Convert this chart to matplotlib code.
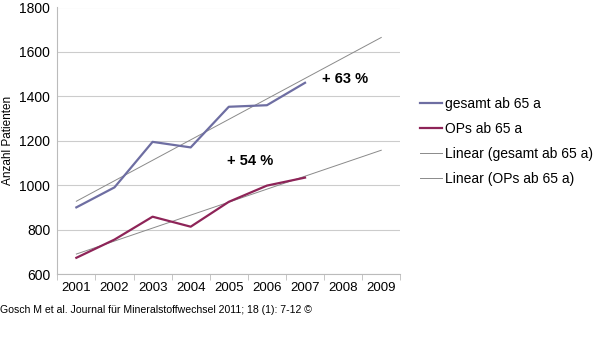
import matplotlib
matplotlib.use("Agg")
import matplotlib.pyplot as plt
import numpy as np

years = ["2001", "2002", "2003", "2004", "2005", "2006", "2007", "2008", "2009"]
gesamt = [900, 990, 1195, 1170, 1353, 1360, 1461]
ops = [673, 755, 858, 813, 925, 998, 1034]
yticks = [600, 800, 1000, 1200, 1400, 1600, 1800]

plt.rcParams['font.family'] = ['Liberation Sans', 'DejaVu Sans']

fig = plt.figure(figsize=(6, 3.59), dpi=100)
ax = fig.add_axes([57.3/600, 1 - 274/359, 343/600, (274 - 7.5)/359])

xd = np.arange(1, len(gesamt) + 1)
xall = np.arange(1, len(years) + 1)
c1 = '#6E6EA2'
c2 = '#8E2458'
tc = '#8a8a8a'

l1, = ax.plot(xd, gesamt, color=c1, lw=1.6, label='gesamt ab 65 a', zorder=3)
l2, = ax.plot(xd, ops, color=c2, lw=1.6, label='OPs ab 65 a', zorder=3)
p1 = np.polyfit(xd, gesamt, 1)
p2 = np.polyfit(xd, ops, 1)
l3, = ax.plot(xall, np.polyval(p1, xall), color=tc, lw=0.7, label='Linear (gesamt ab 65 a)', zorder=2)
l4, = ax.plot(xall, np.polyval(p2, xall), color=tc, lw=0.7, label='Linear (OPs ab 65 a)', zorder=2)

ax.set_xlim(0.5, len(years) + 0.5)
ax.set_ylim(600, 1800)
ax.set_yticks(yticks)
ax.set_yticklabels([str(v) for v in yticks], fontsize=10)
ax.yaxis.grid(True, color='#cccccc', lw=0.8)
ax.set_axisbelow(True)
ax.set_xticks(xall)
ax.set_xticklabels(years, fontsize=9.5)
ax.tick_params(axis='x', length=0, pad=6)
ax.set_xticks(np.arange(0.5, len(years) + 1, 1), minor=True)
ax.tick_params(axis='x', which='minor', length=4, color='#bbbbbb')
ax.tick_params(axis='y', length=0, pad=5)
for s in ['top', 'right']:
    ax.spines[s].set_visible(False)
ax.spines['left'].set_color('#bbbbbb')
ax.spines['bottom'].set_color('#bbbbbb')
ax.set_ylabel('Anzahl Patienten', fontsize=8.5, labelpad=4)

ax.text(7.45, 1480, '+ 63 %', fontsize=10.5, fontweight='bold', ha='left', va='center')
ax.text(5.55, 1110, '+ 54 %', fontsize=10.5, fontweight='bold', ha='center', va='center')

fig.legend(handles=[l1, l2, l3, l4], loc='upper left', bbox_to_anchor=(414/600, 1 - 91/359),
           frameon=False, fontsize=10, handlelength=1.6, handletextpad=0.2, labelspacing=0.8,
           borderaxespad=0.0)

fig.text(0.0, 1 - 310/359, 'Gosch M et al. Journal für Mineralstoffwechsel 2011; 18 (1): 7-12 ©',
         fontsize=7.6, ha='left', va='center')

fig.savefig('out.png', dpi=100)
